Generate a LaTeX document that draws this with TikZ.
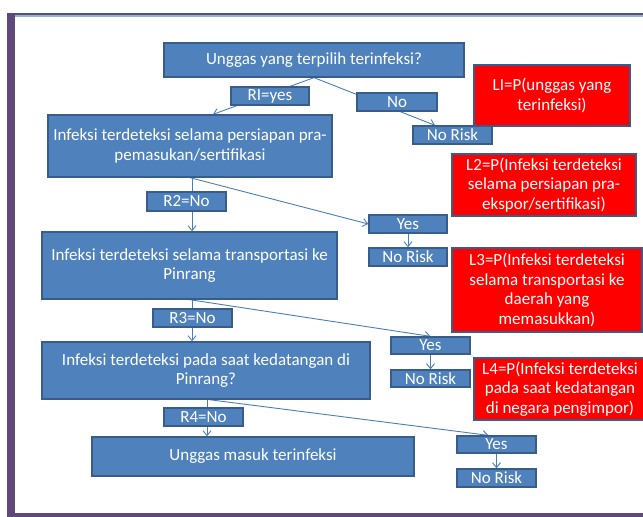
\documentclass[tikz,border=0pt]{standalone}
\usepackage{fontspec}
\setmainfont{Carlito}
\usetikzlibrary{arrows.meta}
\definecolor{frame}{HTML}{5F497A}
\definecolor{framelight}{HTML}{95B3D7}
\definecolor{boxfill}{HTML}{4F81BD}
\definecolor{boxline}{HTML}{385D8A}
\definecolor{conn}{HTML}{4A7EBB}
\definecolor{redfill}{HTML}{FF0000}
\pgfdeclarelayer{back}
\pgfdeclarelayer{lines}
\pgfsetlayers{back,lines,main}
\tikzset{
  base/.style={draw=boxline, line width=1.3pt, text=white, align=center,
    inner sep=0pt, font=\fontsize{17}{19.5}\selectfont},
  bluebox/.style={base, fill=boxfill},
  redbox/.style={base, fill=redfill},
  tag/.style={bluebox, minimum width=79pt, minimum height=18pt},
  conn/.style={draw=conn, line width=0.9pt, -{Straight Barb[length=5pt,width=8pt]}},
}
\begin{document}
\begin{tikzpicture}[x=1pt,y=-1pt]
\useasboundingbox (0,0) rectangle (643,517);
\begin{pgfonlayer}{back}
  \fill[white] (0,0) rectangle (643,517);
  \fill[frame] (7,12.7) rectangle (15,517);
  \fill[frame] (7,12.7) rectangle (643,14.8);
  \fill[framelight] (15,14.8) rectangle (643,16.6);
  \fill[frame] (7,512.8) rectangle (643,517);
\end{pgfonlayer}

% main boxes
\node[bluebox, minimum width=300pt, minimum height=34pt] (q1) at (314,60) {Unggas yang terpilih terinfeksi?};
\node[bluebox, minimum width=284pt, minimum height=62pt] (b1) at (190,146) {Infeksi terdeteksi selama persiapan pra-\\pemasukan/sertifikasi};
\node[bluebox, minimum width=295pt, minimum height=67pt] (b2) at (189.5,265.5) {Infeksi terdeteksi selama transportasi ke\\Pinrang};
\node[bluebox, minimum width=328pt, minimum height=57pt] (b3) at (206,370.5) {Infeksi terdeteksi pada saat kedatangan di\\Pinrang?};
\node[bluebox, minimum width=322pt, minimum height=39pt] (b4) at (253,456.5) {Unggas masuk terinfeksi};

% red boxes
\node[redbox, minimum width=156pt, minimum height=61pt] (l1) at (552,95.5) {LI=P(unggas yang\\terinfeksi)};
\node[redbox, minimum width=184pt, minimum height=62pt] (l2) at (544,185) {L2=P(Infeksi terdeteksi\\selama persiapan pra-\\ekspor/sertifikasi)};
\node[redbox, minimum width=190pt, minimum height=84pt] (l3) at (547,290) {L3=P(Infeksi terdeteksi\\selama transportasi ke\\daerah yang\\memasukkan)};
\node[redbox, minimum width=172pt, minimum height=62pt] (l4) at (560,389) {L4=P(Infeksi terdeteksi\\pada saat kedatangan\\di negara pengimpor)};

% small tags
\node[tag, minimum width=78pt] (ri) at (270,96) {RI=yes};
\node[tag, minimum width=80pt] (no) at (397,102) {No};
\node[tag] (nr1) at (452.5,135) {No Risk};
\node[tag, minimum height=19pt] (r2) at (186.5,201.5) {R2=No};
\node[tag, minimum width=78pt] (yes1) at (408,224) {Yes};
\node[tag, minimum width=78pt] (nr2) at (408,257) {No Risk};
\node[tag] (r3) at (192.5,318) {R3=No};
\node[tag, minimum height=17pt] (yes2) at (430.5,345.5) {Yes};
\node[tag, minimum height=17pt] (nr3) at (430.5,378.5) {No Risk};
\node[tag] (r4) at (203.5,417) {R4=No};
\node[tag, minimum height=17pt] (yes3) at (496.5,444.5) {Yes};
\node[tag, minimum height=18pt] (nr4) at (496.5,478) {No Risk};

% connectors
\begin{pgfonlayer}{lines}
  \draw[conn] (q1.south) -- ([xshift=23pt]b1.north);
  \draw[conn] (q1.south) -- ([xshift=-17.5pt]nr1.north);
  \draw[conn] ([xshift=2pt]b1.south) -- ([xshift=2pt]b1.south |- b2.north);
  \draw[conn] (b1.south) -- (yes1.west);
  \draw[conn] (yes1.south) -- (nr2.north);
  \draw[conn] ([xshift=2.5pt]b2.south) -- ([xshift=2.5pt]b2.south |- b3.north);
  \draw[conn] (b2.south) -- (yes2.north);
  \draw[conn] (yes2.south) -- (nr3.north);
  \draw[conn] ([xshift=1pt]b3.south) -- ([xshift=1pt]b3.south |- b4.north);
  \draw[conn] ([xshift=3pt]b3.south) -- ([xshift=-8pt]yes3.north);
  \draw[conn] (yes3.south) -- (nr4.north);
\end{pgfonlayer}
\end{tikzpicture}
\end{document}
